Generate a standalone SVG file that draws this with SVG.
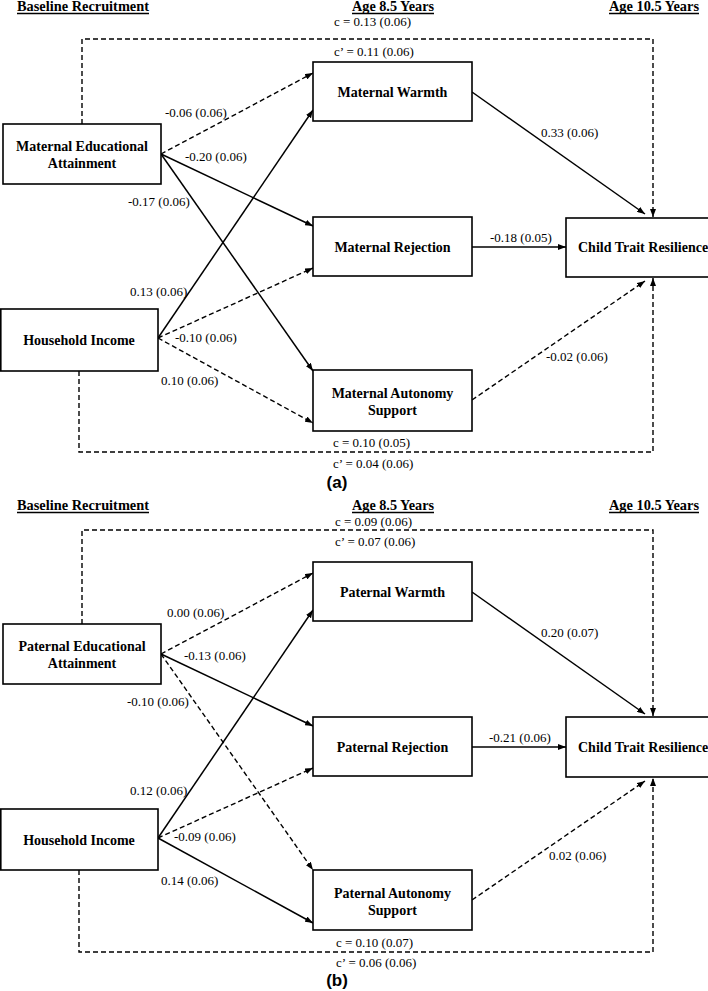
<svg xmlns="http://www.w3.org/2000/svg" width="708" height="991" viewBox="0 0 708 991">
<style>
.bg{fill:#fff}
.box{fill:#fff;stroke:#000;stroke-width:1.6}
.nt{font-family:"Liberation Serif","Times New Roman",serif;font-weight:bold;font-size:14px;fill:#000;text-anchor:middle}
.hd{font-family:"Liberation Serif","Times New Roman",serif;font-weight:bold;font-size:14px;fill:#000}
.lb{font-family:"Liberation Serif","Times New Roman",serif;font-size:13px;fill:#000}
.pl{font-family:"Liberation Sans",Arial,sans-serif;font-weight:bold;font-size:17px;fill:#000;text-anchor:middle}
.s{fill:none;stroke:#000;stroke-width:1.5;marker-end:url(#ah)}
.d{fill:none;stroke:#000;stroke-width:1.4;stroke-dasharray:5 3;marker-end:url(#ah)}
.ul{stroke:#000;stroke-width:1.3}
</style>
<defs>
<marker id="ah" viewBox="0 0 8 6" refX="8" refY="3" markerWidth="8" markerHeight="6" markerUnits="userSpaceOnUse" orient="auto">
<path d="M0,0 L8,3 L0,6 z" fill="#000"/>
</marker>
</defs>
<rect class="bg" x="0" y="0" width="708" height="991"/>

<g id="headers">
<text class="hd" x="17" y="10.5" textLength="132" lengthAdjust="spacingAndGlyphs">Baseline Recruitment</text>
<line class="ul" x1="17" y1="13.5" x2="149" y2="13.5"/>
<text class="hd" x="352" y="10.5" textLength="82" lengthAdjust="spacingAndGlyphs">Age 8.5 Years</text>
<line class="ul" x1="352" y1="13.5" x2="434" y2="13.5"/>
<text class="hd" x="609" y="10.5" textLength="90" lengthAdjust="spacingAndGlyphs">Age 10.5 Years</text>
<line class="ul" x1="609" y1="13.5" x2="699" y2="13.5"/>
<text class="hd" x="17" y="509.5" textLength="132" lengthAdjust="spacingAndGlyphs">Baseline Recruitment</text>
<line class="ul" x1="17" y1="512.5" x2="149" y2="512.5"/>
<text class="hd" x="352" y="509.5" textLength="82" lengthAdjust="spacingAndGlyphs">Age 8.5 Years</text>
<line class="ul" x1="352" y1="512.5" x2="434" y2="512.5"/>
<text class="hd" x="609" y="509.5" textLength="90" lengthAdjust="spacingAndGlyphs">Age 10.5 Years</text>
<line class="ul" x1="609" y1="512.5" x2="699" y2="512.5"/>
</g>

<g id="connectors">
<!-- panel a -->
<polyline class="d" points="82,124 82,39 653,39 653,217"/>
<polyline class="d" points="79,371 79,452 653,452 653,278"/>
<line class="d" x1="161" y1="154" x2="313" y2="73"/>
<line class="s" x1="161" y1="154" x2="313" y2="226"/>
<line class="s" x1="161" y1="154" x2="313" y2="371"/>
<line class="s" x1="158" y1="338" x2="313" y2="110"/>
<line class="d" x1="158" y1="338" x2="313" y2="268"/>
<line class="d" x1="158" y1="338" x2="313" y2="423"/>
<line class="s" x1="472" y1="92" x2="645" y2="214"/>
<line class="s" x1="472" y1="247" x2="566" y2="247"/>
<line class="d" x1="472" y1="400" x2="645" y2="281"/>
<!-- panel b -->
<polyline class="d" points="82,624 82,530 653,530 653,716"/>
<polyline class="d" points="79,870 79,952 653,952 653,778"/>
<line class="d" x1="161" y1="654" x2="313" y2="573"/>
<line class="s" x1="161" y1="654" x2="313" y2="726"/>
<line class="d" x1="161" y1="654" x2="313" y2="870"/>
<line class="s" x1="158" y1="838" x2="313" y2="610"/>
<line class="d" x1="158" y1="838" x2="313" y2="768"/>
<line class="s" x1="158" y1="838" x2="313" y2="923"/>
<line class="s" x1="472" y1="592" x2="645" y2="714"/>
<line class="s" x1="472" y1="747" x2="566" y2="747"/>
<line class="d" x1="472" y1="900" x2="645" y2="781"/>
</g>

<g id="edge-labels">
<text class="lb" x="334" y="26">c = 0.13 (0.06)</text>
<text class="lb" x="334" y="56">c’ = 0.11 (0.06)</text>
<text class="lb" x="165" y="117">-0.06 (0.06)</text>
<text class="lb" x="185" y="161">-0.20 (0.06)</text>
<text class="lb" x="128" y="206">-0.17 (0.06)</text>
<text class="lb" x="130" y="296">0.13 (0.06)</text>
<text class="lb" x="175" y="342">-0.10 (0.06)</text>
<text class="lb" x="161" y="385">0.10 (0.06)</text>
<text class="lb" x="541" y="137">0.33 (0.06)</text>
<text class="lb" x="490" y="242">-0.18 (0.05)</text>
<text class="lb" x="546" y="361">-0.02 (0.06)</text>
<text class="lb" x="333" y="447">c = 0.10 (0.05)</text>
<text class="lb" x="333" y="468">c’ = 0.04 (0.06)</text>

<text class="lb" x="335" y="526">c = 0.09 (0.06)</text>
<text class="lb" x="335" y="546">c’ = 0.07 (0.06)</text>
<text class="lb" x="167" y="617">0.00 (0.06)</text>
<text class="lb" x="184" y="660">-0.13 (0.06)</text>
<text class="lb" x="127" y="706">-0.10 (0.06)</text>
<text class="lb" x="130" y="795">0.12 (0.06)</text>
<text class="lb" x="174" y="841">-0.09 (0.06)</text>
<text class="lb" x="161" y="885">0.14 (0.06)</text>
<text class="lb" x="541" y="637">0.20 (0.07)</text>
<text class="lb" x="489" y="742">-0.21 (0.06)</text>
<text class="lb" x="549" y="860">0.02 (0.06)</text>
<text class="lb" x="336" y="947">c = 0.10 (0.07)</text>
<text class="lb" x="336" y="967">c’ = 0.06 (0.06)</text>
</g>

<!-- panel a nodes -->
<g id="a-mea"><rect class="box" x="3" y="124" width="158" height="60"/><text class="nt" x="82" y="151">Maternal Educational</text><text class="nt" x="82" y="168">Attainment</text></g>
<g id="a-hi"><rect class="box" x="0.8" y="309" width="157.2" height="62"/><text class="nt" x="79" y="345">Household Income</text></g>
<g id="a-mw"><rect class="box" x="313" y="62" width="159" height="59"/><text class="nt" x="392.5" y="97">Maternal Warmth</text></g>
<g id="a-mr"><rect class="box" x="313" y="217" width="159" height="59"/><text class="nt" x="392.5" y="252">Maternal Rejection</text></g>
<g id="a-mas"><rect class="box" x="313" y="370" width="159" height="61"/><text class="nt" x="392.5" y="398">Maternal Autonomy</text><text class="nt" x="392.5" y="415">Support</text></g>
<g id="a-ctr"><rect class="box" x="566" y="218" width="160" height="59"/><text class="nt" x="578" y="252" style="text-anchor:start">Child Trait Resilience</text></g>
<g id="a-label"><text class="pl" x="337" y="488">(a)</text></g>

<!-- panel b nodes -->
<g id="b-pea"><rect class="box" x="3" y="624" width="158" height="60"/><text class="nt" x="82" y="651">Paternal Educational</text><text class="nt" x="82" y="668">Attainment</text></g>
<g id="b-hi"><rect class="box" x="0.8" y="809" width="157.2" height="61"/><text class="nt" x="79" y="845">Household Income</text></g>
<g id="b-pw"><rect class="box" x="313" y="562" width="159" height="59"/><text class="nt" x="392.5" y="597">Paternal Warmth</text></g>
<g id="b-pr"><rect class="box" x="313" y="717" width="159" height="59"/><text class="nt" x="392.5" y="752">Paternal Rejection</text></g>
<g id="b-pas"><rect class="box" x="313" y="870" width="159" height="60"/><text class="nt" x="392.5" y="898">Paternal Autonomy</text><text class="nt" x="392.5" y="915">Support</text></g>
<g id="b-ctr"><rect class="box" x="566" y="717" width="160" height="60"/><text class="nt" x="578" y="752" style="text-anchor:start">Child Trait Resilience</text></g>
<g id="b-label"><text class="pl" x="337" y="986">(b)</text></g>
</svg>
